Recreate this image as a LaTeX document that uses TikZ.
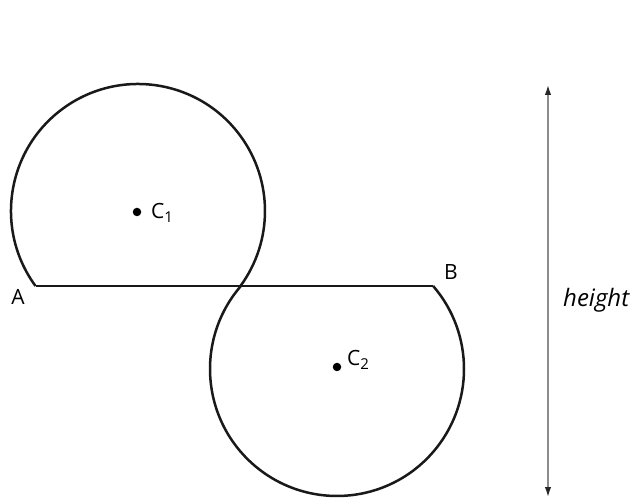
\documentclass[tikz,border=0pt]{standalone}
\usepackage{fontspec}
\setmainfont{Open Sans}
\usetikzlibrary{arrows.meta}
\newcommand{\mysub}[1]{\raisebox{-0.35ex}{\fontsize{15}{16}\selectfont #1}}
\begin{document}
\begin{tikzpicture}[x=1pt,y=1pt,
  curve/.style={line width=2.5pt,black!90},
  lbl/.style={font=\fontsize{21}{24}\selectfont,inner sep=0pt},
  ctr/.style={circle,fill=black,inner sep=0pt,minimum size=8.5pt},
  dim/.style={line width=1.5pt,black!45,{Latex[length=10pt,width=6.5pt,black!85]}-{Latex[length=10pt,width=6.5pt,black!85]}}]
\useasboundingbox (0,0) rectangle (639,503);
% key points
\coordinate (c1) at (138,292);
\coordinate (c2) at (337,134);
\coordinate (A) at (35.51,217);
\coordinate (X1) at (240.49,217);
\coordinate (X2) at (240.87,217);
\coordinate (B) at (433.13,217);
% upper circle (major arc above AB)
\draw[curve,line join=round] (A) arc[start angle=216.2,end angle=-36.2,radius=127pt];
% chord AB
\draw[curve] (A) -- (B);
% lower circle (major arc below AB)
\draw[curve,line join=round] (X2) arc[start angle=139.2,end angle=400.8,radius=127pt];
% centres
\node[ctr] (d1) at (137,291) {};
\node[ctr] (d2) at (337,136) {};
\node[lbl,anchor=west] (C1) at (151,290) {C\mysub{1}};
\node[lbl,anchor=west] (C2) at (347,143) {C\mysub{2}};
% end labels
\node[lbl] (lA) at (18,206) {A};
\node[lbl] (lB) at (451,231) {B};
% height dimension
\coordinate (h1) at (548,418);
\coordinate (h2) at (548,6);
\draw[dim] (h2) -- (h1);
\node[lbl,anchor=west,font=\fontsize{24}{28}\selectfont\itshape] (ht) at (563,203) {height};
\end{tikzpicture}
\end{document}
